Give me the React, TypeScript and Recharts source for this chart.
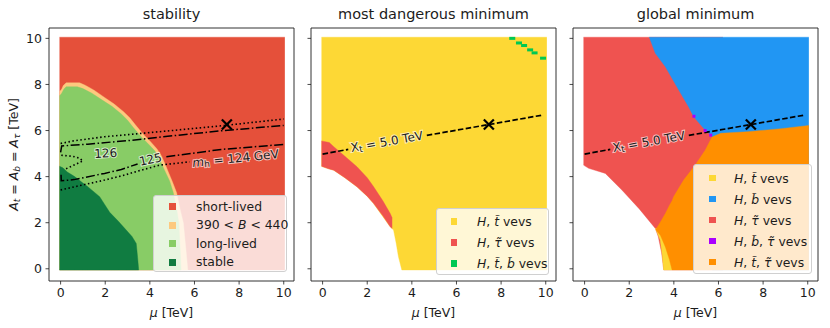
import React from 'react';
import { ComposedChart, Area, Line, Scatter, XAxis, YAxis, ReferenceArea } from 'recharts';

const FONT = '"DejaVu Sans", sans-serif';
const INK = '#1c1c1c';

const MU_TICKS = [0, 2, 4, 6, 8, 10];
const A_TICKS = [0, 2, 4, 6, 8, 10];
const MU_DOMAIN: [number, number] = [-0.52, 10.46];
const A_DOMAIN: [number, number] = [-0.53, 10.45];

// regions: [mu, lower A_t, upper A_t] in TeV
const fullScan = [[-0.05, -0.05, 10.05], [10.05, -0.05, 10.05]];

// stability panel
const band390 = [
  [-0.05, -0.05, 7.68], [0.05, -0.05, 7.8], [0.12, -0.05, 7.95], [0.25, -0.05, 8.07], [0.85, -0.05, 8.07],
  [1.1, -0.05, 7.97], [1.5, -0.05, 7.75], [1.95, -0.05, 7.45], [2.4, -0.05, 7.15], [2.82, -0.05, 6.82],
  [3.1, -0.05, 6.55], [3.35, -0.05, 6.25], [3.72, -0.05, 5.82], [4.0, -0.05, 5.55], [4.32, -0.05, 5.2],
  [4.52, -0.05, 4.9], [4.68, -0.05, 4.55], [4.85, -0.05, 4.15], [5.0, -0.05, 3.8], [5.2, -0.05, 3.3],
  [5.35, -0.05, 2.6], [5.5, -0.05, 2.0], [5.6, -0.05, 1.0], [5.7, -0.05, -0.05],
];
const longLived = [
  [-0.05, -0.05, 7.5], [0.05, -0.05, 7.62], [0.15, -0.05, 7.8], [0.25, -0.05, 7.9], [0.75, -0.05, 7.9],
  [1.0, -0.05, 7.82], [1.4, -0.05, 7.62], [1.9, -0.05, 7.3], [2.3, -0.05, 7.05], [2.72, -0.05, 6.72],
  [3.0, -0.05, 6.45], [3.24, -0.05, 6.15], [3.62, -0.05, 5.72], [3.9, -0.05, 5.45], [4.22, -0.05, 5.12],
  [4.4, -0.05, 4.85], [4.55, -0.05, 4.5], [4.72, -0.05, 4.15], [4.89, -0.05, 3.8], [5.05, -0.05, 3.3],
  [5.2, -0.05, 2.6], [5.3, -0.05, 2.0], [5.35, -0.05, 1.0], [5.4, -0.05, -0.05],
];
const stable = [
  [-0.05, -0.05, 4.45], [0.1, -0.05, 4.38], [0.3, -0.05, 4.2], [0.63, -0.05, 4.0], [1.0, -0.05, 3.72],
  [1.22, -0.05, 3.56], [1.75, -0.05, 3.13], [2.2, -0.05, 2.45], [2.6, -0.05, 2.05], [2.94, -0.05, 1.68],
  [3.2, -0.05, 1.4], [3.39, -0.05, 1.1], [3.45, -0.05, 0.5], [3.5, -0.05, -0.05],
];

// m_h contours, [mu, A_t]
const dottedUpper = [[0, 5.44], [0.63, 5.56], [1.97, 5.73], [3.32, 5.85], [5.0, 6.0], [7.35, 6.22], [10.0, 6.5]];
const dashDotUpper = [[0, 5.05], [0.05, 5.33], [1.22, 5.41], [3.32, 5.59], [5.0, 5.77], [7.2, 5.99], [10.0, 6.22]];
const dashDotLower = [
  [0.02, 4.08], [0.03, 3.82], [0.6, 3.87], [1.97, 4.14], [2.72, 4.31], [3.45, 4.55],
  [4.1, null], [4.74, 4.86], [7.2, 5.18], [10.0, 5.4],
];
const dottedLower = [[0, 3.42], [0.63, 3.56], [1.97, 3.85], [2.8, 4.05], [3.5, 4.25], [4.44, 4.5], [5.78, 4.64]];
const loop126 = [[0.03, 4.93], [0.55, 4.88], [0.85, 4.8], [1.0, 4.68], [0.6, 4.5], [0.15, 4.3]];
const label126 = [[2.02, 5.01]];
const label125 = [[4.03, 4.74]];
const label124 = [[7.84, 4.79]];

// benchmark point and X_t = 5 TeV line
const benchmark = [[7.45, 6.26]];
const xtLine = [[0, 4.98], [1.15, 5.18], [2.9, null], [4.67, 5.79], [7.45, 6.26], [9.85, 6.67]];
const xtLabel = [[2.88, 5.51]];

// most dangerous minimum
const dangerTop = [
  [-0.05, 4.45, 10.05], [0.2, 4.36, 10.05], [0.5, 4.28, 10.05], [1.0, 3.95, 10.05], [1.54, 3.56, 10.05],
  [2.0, 3.15, 10.05], [2.28, 2.84, 10.05], [2.6, 2.4, 10.05], [3.03, 1.82, 10.05], [3.18, 1.68, 10.05],
  [3.3, 1.1, 10.05], [3.4, 0.52, 10.05], [3.55, -0.05, 10.05], [10.05, -0.05, 10.05],
];
const dangerStau = [
  [-0.05, 4.45, 5.55], [0.3, 4.33, 5.48], [0.5, 4.28, 5.3], [1.0, 3.95, 4.88], [1.54, 3.56, 4.43],
  [2.0, 3.15, 3.95], [2.28, 2.84, 3.57], [2.7, 2.3, 2.95], [3.03, 1.82, 2.4], [3.12, 1.75, 2.2],
];
const dangerTopBottom = [[8.5, 10.0], [8.8, 9.8], [9.03, 9.69], [9.3, 9.5], [9.5, 9.37], [9.88, 9.14]];

// global minimum
const globalStau = [
  [-0.05, 4.5, 10.05], [0.18, 4.36, 10.05], [0.93, 4.14, 10.05], [1.67, 3.42, 10.05], [2.45, 2.6, 10.05],
  [3.17, 1.75, 10.05], [3.3, 1.4, 10.05], [3.45, 0.7, 10.05], [3.55, -0.05, 10.05], [6.2, -0.05, 10.05],
];
const globalSbottom = [
  [2.9, 10.05, 10.05], [3.17, 9.35, 10.05], [3.62, 8.77, 10.05], [4.22, 7.76, 10.05], [4.66, 7.03, 10.05],
  [4.89, 6.6, 10.05], [5.34, 6.09, 10.05], [5.71, 5.75, 10.05], [5.72, -0.05, 10.05], [10.05, -0.05, 10.05],
];
const globalStop = [
  [3.17, 1.75, 1.75], [3.24, 1.6, 1.75], [3.39, 1.24, 1.75], [3.47, 0.67, 1.75], [3.54, -0.05, 1.75], [3.92, -0.05, 1.75],
];
const globalStopStau = [
  [3.2, 1.68, 1.72], [3.4, 1.45, 2.03], [3.62, 0.95, 2.4], [3.8, 0.4, 2.75], [3.92, -0.05, 2.95],
  [3.99, -0.05, 3.13], [4.44, -0.05, 3.85], [4.96, -0.05, 4.5], [5.41, -0.05, 5.15], [5.71, -0.05, 5.72],
  [6.1, -0.05, 5.88], [7.3, -0.05, 5.95], [8.8, -0.05, 6.08], [10.05, -0.05, 6.22],
];
const globalSbottomStau = [[4.9, 6.62], [5.4, 6.0], [5.65, 5.8]];

const C = {
  shortLived: '#e5503a',
  band: '#fdc97f',
  longLived: '#88cc66',
  stable: '#107c41',
  stop: '#fdd835',
  sbottom: '#2196f3',
  stau: '#ef5350',
  sbottomStau: '#aa00ff',
  stopStau: '#ff8f00',
  stopSbottom: '#00c853',
};

const toRange = (rows: number[][]) => rows.map(([mu, lo, hi]) => ({ mu, lo, hi }));
const toPts = (rows: (number | null)[][]) => rows.map(([mu, a]) => ({ mu, a }));
const range = (d: any) => [d.lo, d.hi];

const region = (key: string, rows: number[][], fill: string) => (
  <Area key={key} data={toRange(rows)} dataKey={range} type="linear" fill={fill} fillOpacity={1}
    stroke={fill} strokeWidth={0.4} dot={false} activeDot={false} isAnimationActive={false} />
);

const curve = (key: string, rows: (number | null)[][], dash: string, width = 1.5) => (
  <Line key={key} data={toPts(rows)} dataKey="a" type="linear" stroke="#000" strokeWidth={width}
    strokeDasharray={dash} dot={false} activeDot={false} isAnimationActive={false} />
);

const cross = (p: any) => (
  <g stroke="#000" strokeWidth={2.2}>
    <line x1={p.cx - 5} y1={p.cy - 5} x2={p.cx + 5} y2={p.cy + 5} />
    <line x1={p.cx - 5} y1={p.cy + 5} x2={p.cx + 5} y2={p.cy - 5} />
  </g>
);

const cell = (fill: string, w: number, h: number) => (p: any) => (
  <rect x={p.cx - w / 2} y={p.cy - h / 2} width={w} height={h} fill={fill} />
);

const inlineText = (content: React.ReactNode, angle: number) => (p: any) => (
  <text x={p.cx} y={p.cy} transform={`rotate(${angle} ${p.cx} ${p.cy})`} textAnchor="middle"
    dominantBaseline="central" fontSize={12} fontFamily={FONT} fill={INK}
    stroke="rgba(255,255,255,0.65)" strokeWidth={2} paintOrder="stroke">
    {content}
  </text>
);

const marks = (key: string, rows: number[][], shape: any) => (
  <Scatter key={key} data={toPts(rows)} dataKey="a" shape={shape} isAnimationActive={false} />
);

const MuLabel = (props: any) => {
  const vb = props.viewBox || { x: 49, y: 281, width: 245 };
  return (
    <text x={vb.x + vb.width / 2} y={vb.y + 35.5} textAnchor="middle" fontSize={12.5} fontFamily={FONT} fill={INK}>
      <tspan fontStyle="italic">μ</tspan> [TeV]
    </text>
  );
};

const ALabel = (props: any) => {
  const vb = props.viewBox || { x: 0, y: 28, height: 253 };
  const cx = 17.5;
  const cy = vb.y + vb.height / 2;
  return (
    <text x={cx} y={cy} transform={`rotate(-90 ${cx} ${cy})`} textAnchor="middle" fontSize={12.5} fontFamily={FONT} fill={INK}>
      <tspan fontStyle="italic">A</tspan>
      <tspan fontStyle="italic" fontSize={9} dy={2.5}>t</tspan>
      <tspan dy={-2.5}> = </tspan>
      <tspan fontStyle="italic">A</tspan>
      <tspan fontStyle="italic" fontSize={9} dy={2.5}>b</tspan>
      <tspan dy={-2.5}> = </tspan>
      <tspan fontStyle="italic">A</tspan>
      <tspan fontStyle="italic" fontSize={9} dy={2.5}>τ</tspan>
      <tspan dy={-2.5}> [TeV]</tspan>
    </text>
  );
};

const tickStyle = { fontSize: 12.5, fontFamily: FONT, fill: INK };
const noTickLabel = () => <g />;

function Panel({ left, width, yLabels, children }: { left: number; width: number; yLabels: boolean; children: React.ReactNode }) {
  return (
    <div style={{ position: 'absolute', left, top: 0 }}>
      <ComposedChart width={width} height={328} margin={{ top: 28, right: 6, bottom: 7, left: 0 }}>
        <XAxis dataKey="mu" type="number" domain={MU_DOMAIN} ticks={MU_TICKS} allowDataOverflow
          axisLine={false} tickLine={{ stroke: INK, strokeWidth: 0.8 }} tickSize={3.5} tickMargin={4}
          height={40} tick={tickStyle} label={{ content: MuLabel }} />
        <YAxis type="number" domain={A_DOMAIN} ticks={A_TICKS} allowDataOverflow
          axisLine={false} tickLine={{ stroke: INK, strokeWidth: 0.8 }} tickSize={3.5} tickMargin={3.5}
          width={yLabels ? 49 : 11} tick={yLabels ? tickStyle : noTickLabel}
          label={yLabels ? { content: ALabel } : undefined} />
        {children}
        <ReferenceArea x1={MU_DOMAIN[0]} x2={MU_DOMAIN[1]} y1={A_DOMAIN[0]} y2={A_DOMAIN[1]}
          fill="none" fillOpacity={0} stroke={INK} strokeWidth={0.9} strokeOpacity={1} ifOverflow="visible" />
      </ComposedChart>
    </div>
  );
}

type LegendItem = { color: string; label: React.ReactNode };

const stabilityLegend: LegendItem[] = [
  { color: C.shortLived, label: 'short-lived' },
  { color: C.band, label: <>390 &lt; <i>B</i> &lt; 440</> },
  { color: C.longLived, label: 'long-lived' },
  { color: C.stable, label: 'stable' },
];
const dangerLegend: LegendItem[] = [
  { color: C.stop, label: <><i>H</i>, <i>t̃</i> vevs</> },
  { color: C.stau, label: <><i>H</i>, <i>τ̃</i> vevs</> },
  { color: C.stopSbottom, label: <><i>H</i>, <i>t̃</i>, <i>b̃</i> vevs</> },
];
const globalLegend: LegendItem[] = [
  { color: C.stop, label: <><i>H</i>, <i>t̃</i> vevs</> },
  { color: C.sbottom, label: <><i>H</i>, <i>b̃</i> vevs</> },
  { color: C.stau, label: <><i>H</i>, <i>τ̃</i> vevs</> },
  { color: C.sbottomStau, label: <><i>H</i>, <i>b̃</i>, <i>τ̃</i> vevs</> },
  { color: C.stopStau, label: <><i>H</i>, <i>t̃</i>, <i>τ̃</i> vevs</> },
];

function LegendBox({ items, left, top, width, row, pad, markLeft, textLeft, mark }: {
  items: LegendItem[]; left: number; top: number; width: number; row: number; pad: number;
  markLeft: number; textLeft: number; mark: number;
}) {
  return (
    <div style={{
      position: 'absolute', left, top, width, height: items.length * row + pad * 2 - 2,
      background: 'rgba(255,255,255,0.8)', border: '1px solid #d0d0d0', borderRadius: 3,
      boxSizing: 'border-box', paddingTop: pad - 1, fontFamily: FONT, fontSize: 12.4, color: INK,
    }}>
      {items.map((it, i) => (
        <div key={i} style={{ position: 'relative', height: row, lineHeight: `${row}px`, whiteSpace: 'nowrap' }}>
          <span style={{
            position: 'absolute', left: markLeft, top: (row - mark) / 2, width: mark, height: mark, background: it.color,
          }} />
          <span style={{ position: 'absolute', left: textLeft }}>{it.label}</span>
        </div>
      ))}
    </div>
  );
}

const Title = ({ center, text }: { center: number; text: string }) => (
  <div style={{
    position: 'absolute', left: center - 120, width: 240, top: 6, textAlign: 'center',
    fontFamily: FONT, fontSize: 14.5, lineHeight: '16px', color: INK,
  }}>{text}</div>
);

const xtText = <><tspan>X</tspan><tspan fontSize={9} dy={2.5}>t</tspan><tspan dy={-2.5}> = 5.0 TeV</tspan></>;
const mhText = <><tspan fontStyle="italic">m</tspan><tspan fontSize={9} dy={2.5}>h</tspan><tspan dy={-2.5}> = 124 GeV</tspan></>;

export default function App() {
  return (
    <div style={{ position: 'absolute', left: 0, top: 0, width: 830, height: 328, background: '#fff' }}>
      <Panel left={0} width={300} yLabels>
        {region('short', fullScan, C.shortLived)}
        {region('band', band390, C.band)}
        {region('long', longLived, C.longLived)}
        {region('stable', stable, C.stable)}
        {curve('dotU', dottedUpper, '1.5 2.5', 1.6)}
        {curve('ddU', dashDotUpper, '9 2.5 1.5 2.5')}
        {curve('ddL', dashDotLower, '9 2.5 1.5 2.5')}
        {curve('dotL', dottedLower, '1.5 2.5', 1.6)}
        {curve('loop', loop126, '1.5 2.5', 1.6)}
        {marks('l126', label126, inlineText('126', -3))}
        {marks('l125', label125, inlineText('125', -12))}
        {marks('l124', label124, inlineText(mhText, -6))}
        {marks('bp1', benchmark, cross)}
      </Panel>
      <Panel left={300} width={262} yLabels={false}>
        {region('top', dangerTop, C.stop)}
        {region('stau', dangerStau, C.stau)}
        {marks('tb', dangerTopBottom, cell(C.stopSbottom, 6, 3))}
        {curve('xt2', xtLine, '5.5 2.4', 1.7)}
        {marks('xtl2', xtLabel, inlineText(xtText, -10))}
        {marks('bp2', benchmark, cross)}
      </Panel>
      <Panel left={562} width={262} yLabels={false}>
        {region('gstau', globalStau, C.stau)}
        {region('gsb', globalSbottom, C.sbottom)}
        {region('gstop', globalStop, C.stop)}
        {region('gstst', globalStopStau, C.stopStau)}
        {marks('gsbst', globalSbottomStau, cell(C.sbottomStau, 3, 3))}
        {curve('xt3', xtLine, '5.5 2.4', 1.7)}
        {marks('xtl3', xtLabel, inlineText(xtText, -10))}
        {marks('bp3', benchmark, cross)}
      </Panel>
      <Title center={171.5} text="stability" />
      <Title center={433.5} text="most dangerous minimum" />
      <Title center={695.5} text="global minimum" />
      <LegendBox items={stabilityLegend} left={153} top={195} width={134} row={18.6} pad={2.5} markLeft={15} textLeft={42} mark={7} />
      <LegendBox items={dangerLegend} left={436} top={208} width={113} row={21} pad={3} markLeft={13.5} textLeft={40} mark={6.5} />
      <LegendBox items={globalLegend} left={693} top={164} width={119} row={21} pad={3.5} markLeft={15} textLeft={40} mark={6.5} />
    </div>
  );
}
